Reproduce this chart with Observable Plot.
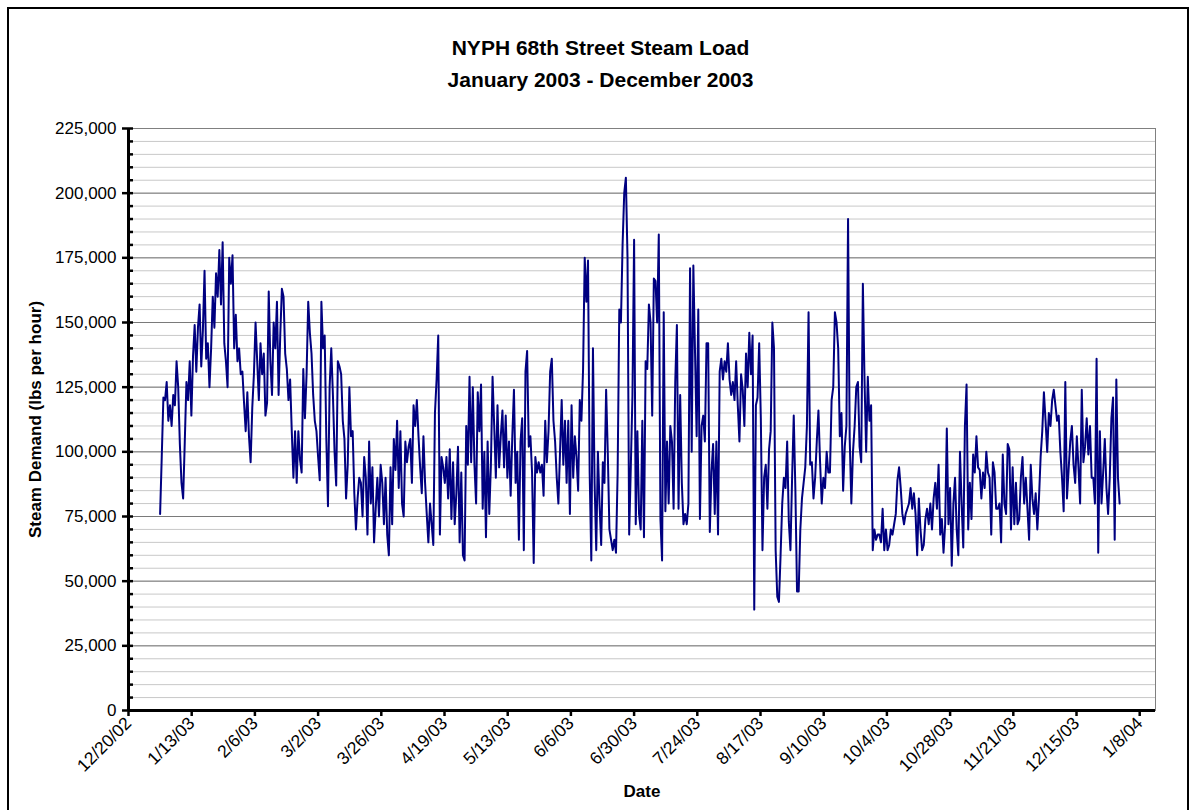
<!DOCTYPE html>
<html><head><meta charset="utf-8">
<script src="https://cdn.jsdelivr.net/npm/d3@7"></script>
<script src="https://cdn.jsdelivr.net/npm/@observablehq/plot@0.6"></script>
<style>
body{margin:0;background:#fff;font-family:"Liberation Sans",Arial,sans-serif;}
#wrap{position:relative;width:1191px;height:810px;overflow:hidden;background:#fff;}
#border{position:absolute;left:7px;top:7px;width:1178px;height:900px;border:2px solid #000;pointer-events:none;}
#head{position:relative;height:100px;width:1191px;}
.t{position:absolute;left:0;width:1201px;text-align:center;font-weight:bold;font-size:21px;line-height:24px;color:#000;}
#chart{position:relative;}
</style></head><body>
<div id="wrap">
<div id="head">
<div class="t" style="top:36px">NYPH 68th Street Steam Load</div>
<div class="t" style="top:68px">January 2003 - December 2003</div>
</div>
<div id="chart"></div>
<div id="border"></div>
</div>
<script>
// Steam load samples (thousand lbs per hour), one reading every 15 hours from 1/1/2003 00:00
const startDate = "2003-01-01";
const stepHours = 15;
const loadK = [
// Jan 1 - Feb 5
76,98,121,120,127,112,118,110,122,118,135,125,103,88,82,104,127,120,135,114,
137,149,131,148,157,133,147,170,136,142,125,140,160,148,169,160,178,157,181,142,
135,125,175,165,176,140,153,135,140,130,131,119,108,123,106,96,117,130,
// Feb 6 - Mar 14
150,135,120,142,130,138,114,119,162,135,122,150,140,158,122,145,163,160,138,132,
120,128,108,90,108,88,108,97,92,132,113,130,158,146,138,122,112,108,98,89,
158,140,145,105,79,125,140,122,100,87,135,133,130,112,105,82,95,125,
// Mar 15 - Apr 20
106,108,84,70,82,90,88,75,98,90,68,104,80,94,65,78,90,75,95,88,
72,90,68,60,94,72,105,93,112,86,108,80,75,104,96,102,105,88,118,110,
120,106,94,84,106,88,76,65,80,72,64,115,128,145,68,98,94,88,
// Apr 21 - May 26
98,82,101,74,96,72,84,102,65,92,60,58,110,95,129,96,125,95,80,123,
108,126,78,100,67,104,76,95,129,110,90,118,94,106,116,94,114,90,104,83,
106,124,88,100,66,104,113,62,131,139,102,106,92,57,98,92,96,92,
// May 27 - Jul 1
95,83,112,96,108,131,136,112,104,90,80,100,120,95,112,88,112,76,118,90,
106,98,85,120,112,132,175,158,174,92,58,140,88,62,100,80,64,96,88,124,
100,70,66,62,66,61,92,155,150,180,200,206,175,68,94,122,182,72,
// Jul 2 - Aug 7
108,76,70,112,67,135,132,157,150,114,167,166,150,184,74,58,154,77,104,80,
110,104,78,127,149,78,122,88,72,76,72,80,171,100,172,139,106,155,74,110,
114,104,142,142,69,92,103,76,104,68,131,136,128,135,131,142,128,122,
// Aug 8 - Sep 13
127,120,135,118,104,130,124,110,138,125,146,130,145,39,118,121,142,113,62,90,
95,78,101,108,150,140,62,44,42,60,80,90,86,104,73,62,90,114,85,46,
46,70,82,88,94,110,154,95,96,82,90,104,116,96,80,90,86,100,
// Sep 14 - Oct 19
92,92,120,125,154,150,140,106,115,85,102,110,190,105,80,100,110,125,127,102,
96,165,128,100,129,112,118,62,70,66,68,68,65,78,62,70,62,64,70,68,
72,76,89,94,86,76,72,76,78,80,86,78,84,76,60,82,70,62,
// Oct 20 - Nov 24
64,74,78,72,80,70,82,88,78,95,68,74,61,72,109,72,86,56,80,90,
70,60,100,80,63,110,126,70,88,74,99,92,106,94,93,82,92,86,100,92,
90,68,96,92,78,78,80,65,99,80,76,103,101,70,94,72,88,72,
// Nov 25 - Dec 31
74,90,98,80,90,78,66,95,82,76,84,70,82,98,108,123,112,100,115,110,
120,124,118,112,114,100,90,77,127,82,93,104,110,95,88,106,94,80,124,96,
102,113,99,110,90,90,80,136,61,108,80,92,105,86,76,90,113,121,66,128,
90,80
];
const xTickLabels = ["12/20/02","1/13/03","2/6/03","3/2/03","3/26/03","4/19/03","5/13/03","6/6/03","6/30/03","7/24/03","8/17/03","9/10/03","10/4/03","10/28/03","11/21/03","12/15/03","1/8/04"];
const yTickLabels = ["0","25,000","50,000","75,000","100,000","125,000","150,000","175,000","200,000","225,000"];
const xAxisEnd = "1/14/04";
const yTitle = "Steam Demand (lbs per hour)";
const xTitle = "Date";

const parseMDY = s => { const [m,d,y] = s.split("/").map(Number); return new Date(Date.UTC(2000 + y, m - 1, d)); };
const t0 = new Date(startDate + "T00:00:00Z").getTime();
const rows = loadK.map((v, i) => ({date: new Date(t0 + i * stepHours * 3600e3), load: v * 1000}));
const xTicks = xTickLabels.map(parseMDY);
const labelByTime = new Map(xTicks.map((d, i) => [+d, xTickLabels[i]]));
const yTicks = yTickLabels.map(s => +s.replace(/,/g, ""));
const yLabelByVal = new Map(yTicks.map((v, i) => [v, yTickLabels[i]]));
const yMax = yTicks[yTicks.length - 1];
const minorY = d3.range(0, yMax + 1, 5000);
const xStart = xTicks[0], xEnd = parseMDY(xAxisEnd);

const W = 1191, ML = 128, MR = 36, MT = 28, MB = 100, H = 710;
const plotW = W - ML - MR;

const chart = Plot.plot({
  width: W, height: H,
  marginLeft: ML, marginRight: MR, marginTop: MT, marginBottom: MB,
  style: {fontFamily: "'Liberation Sans', Arial, sans-serif", fontSize: "17px", color: "#000", background: "#fff", overflow: "visible"},
  x: {type: "utc", domain: [xStart, xEnd]},
  y: {domain: [0, yMax]},
  marks: [
    Plot.ruleY(minorY, {stroke: "#c8c8c8", strokeWidth: 1}),
    Plot.ruleY(yTicks, {stroke: "#7a7a7a", strokeWidth: 1}),
    Plot.frame({stroke: "#808080", strokeWidth: 1}),
    Plot.lineY(rows, {x: "date", y: "load", stroke: "#000080", strokeWidth: 2}),
    Plot.axisY({ticks: yTicks, tickFormat: v => yLabelByVal.get(v), tickSize: 6, tickPadding: 6, strokeWidth: 2.5, fontSize: 17, label: null}),
    Plot.ruleY(minorY, {insetRight: plotW - 5, stroke: "#000", strokeWidth: 2.5}),
    Plot.axisX({ticks: xTicks, tickFormat: d => labelByTime.get(+d), tickRotate: -45, tickSize: 6, tickPadding: 4, strokeWidth: 2.5, fontSize: 17.5, label: null}),
    Plot.ruleX([xStart], {stroke: "#000", strokeWidth: 3}),
    Plot.ruleY([0], {stroke: "#000", strokeWidth: 3}),
    Plot.text([yTitle], {text: d => d, frameAnchor: "left", textAnchor: "middle", dx: -93, rotate: -90, fontWeight: "bold", fontSize: 17}),
    Plot.text([xTitle], {text: d => d, frameAnchor: "bottom", dy: 86, fontWeight: "bold", fontSize: 17})
  ]
});
document.getElementById("chart").appendChild(chart);
</script>
</body></html>
